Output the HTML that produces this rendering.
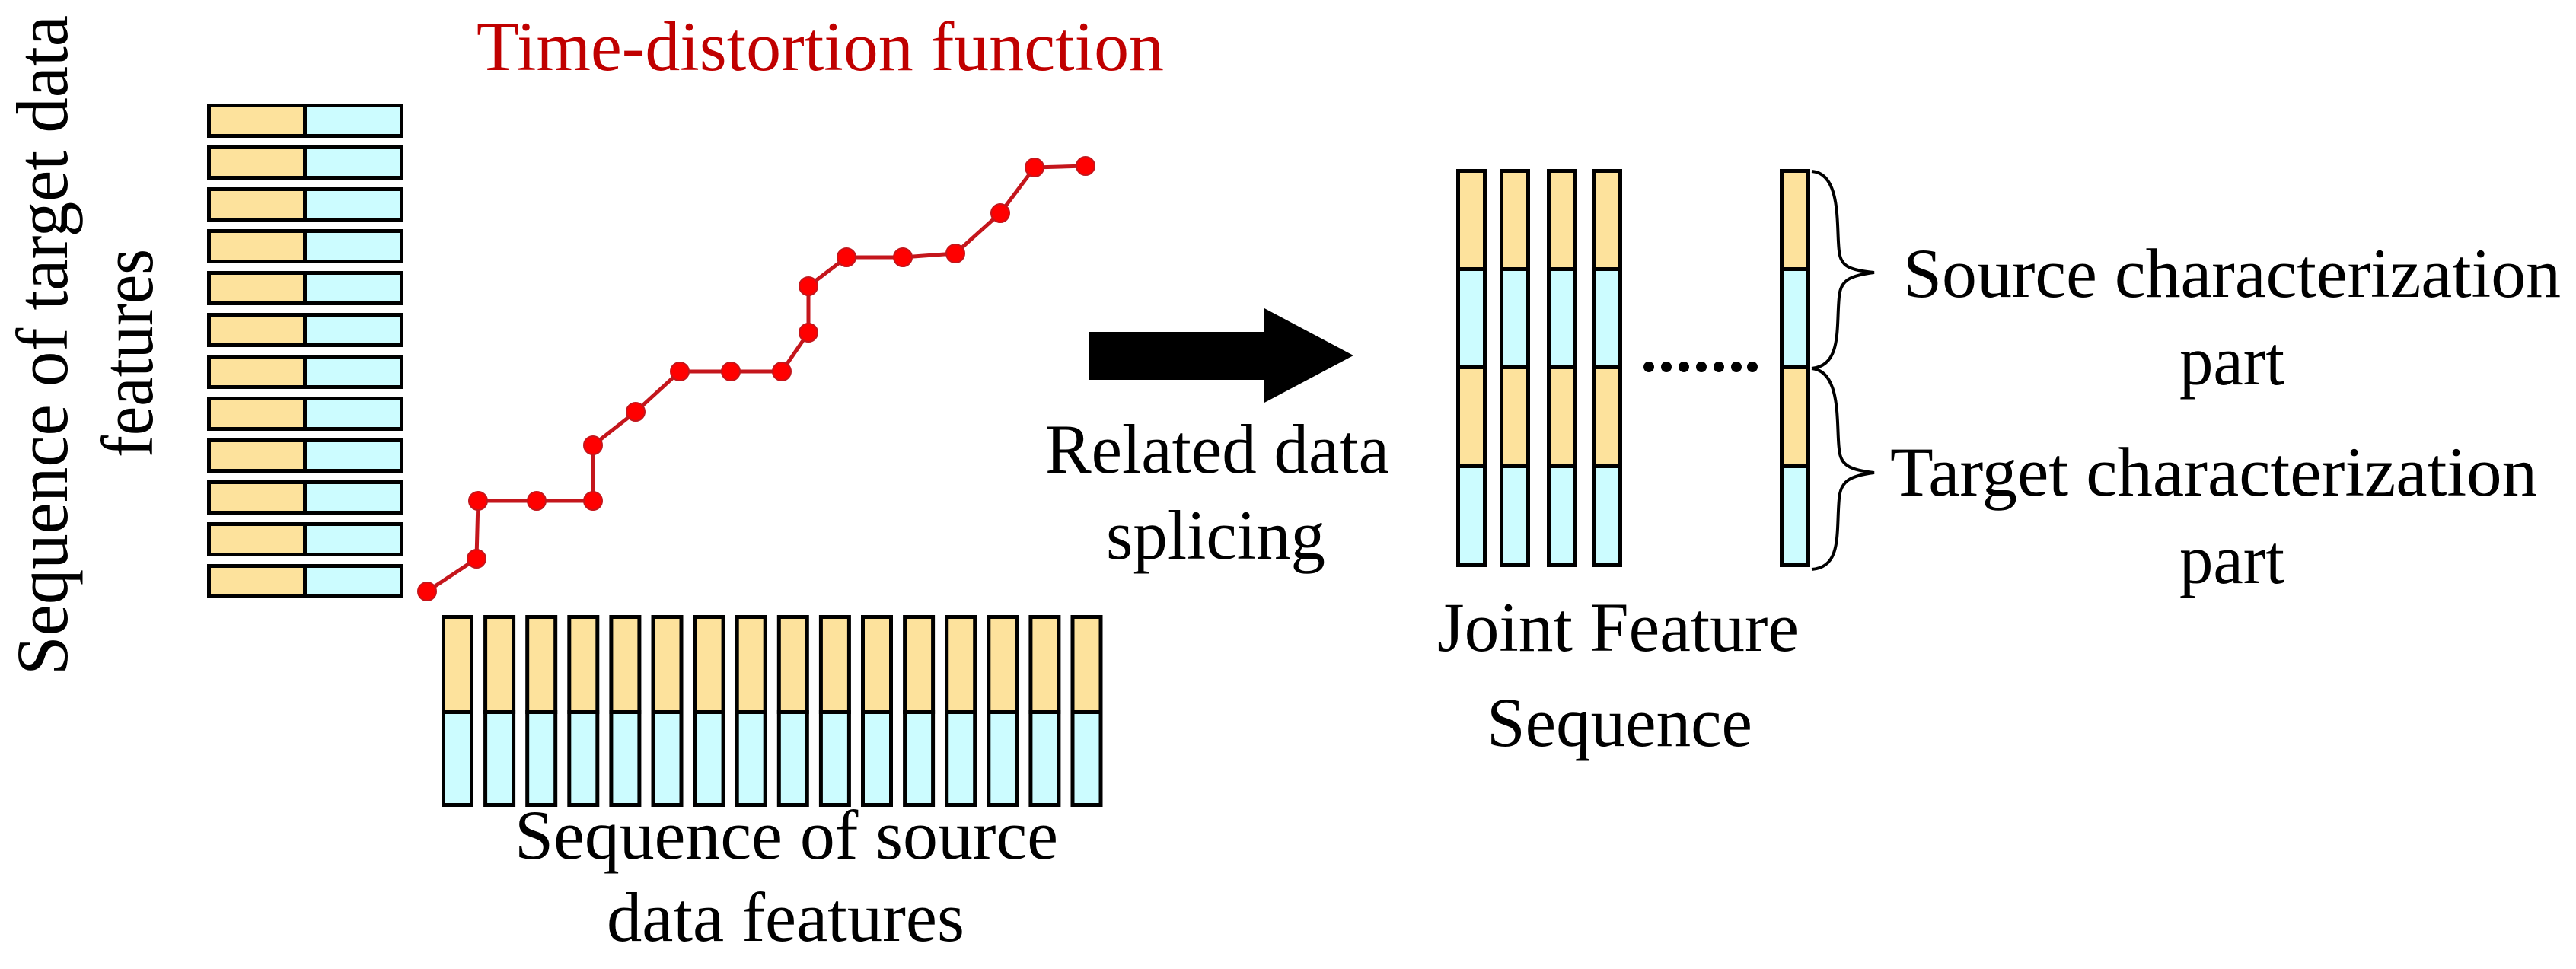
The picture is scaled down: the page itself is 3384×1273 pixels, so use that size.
<!DOCTYPE html>
<html><head><meta charset="utf-8"><style>html,body{margin:0;padding:0;background:#fff}svg{display:block}text{font-family:'Liberation Serif','DejaVu Serif',serif !important}</style></head>
<body>
<svg width="3384" height="1273" viewBox="0 0 3384 1273" xmlns="http://www.w3.org/2000/svg" style="font-family:'Liberation Serif','DejaVu Serif',serif">
<rect width="3384" height="1273" fill="#fff"/>
<g stroke="#000" stroke-width="5">
<g id="lb">
<rect x="274.5" y="138.5" width="126" height="40" fill="#fde29c"/>
<rect x="400.5" y="138.5" width="127" height="40" fill="#ccfcff"/>
</g>
<use href="#lb" y="55"/><use href="#lb" y="110"/><use href="#lb" y="165"/><use href="#lb" y="220"/><use href="#lb" y="275"/><use href="#lb" y="330"/><use href="#lb" y="385"/><use href="#lb" y="440"/><use href="#lb" y="495"/><use href="#lb" y="550"/><use href="#lb" y="605"/>
<g id="bc">
<rect x="582.5" y="810.5" width="37" height="125" fill="#fde29c"/>
<rect x="582.5" y="935.5" width="37" height="122" fill="#ccfcff"/>
</g>
<use href="#bc" x="55.1"/><use href="#bc" x="110.2"/><use href="#bc" x="165.3"/><use href="#bc" x="220.4"/><use href="#bc" x="275.5"/><use href="#bc" x="330.6"/><use href="#bc" x="385.7"/><use href="#bc" x="440.8"/><use href="#bc" x="495.9"/><use href="#bc" x="551"/><use href="#bc" x="606.1"/><use href="#bc" x="661.2"/><use href="#bc" x="716.3"/><use href="#bc" x="771.4"/><use href="#bc" x="826.5"/>
<g id="jc">
<rect x="1915.5" y="224.5" width="35" height="129" fill="#fde29c"/>
<rect x="1915.5" y="353.5" width="35" height="129" fill="#ccfcff"/>
<rect x="1915.5" y="482.5" width="35" height="130" fill="#fde29c"/>
<rect x="1915.5" y="612.5" width="35" height="130" fill="#ccfcff"/>
</g>
<use href="#jc" x="57"/><use href="#jc" x="119"/><use href="#jc" x="178"/><use href="#jc" x="425"/>
</g>
<g fill="#000">
<circle cx="2166" cy="482" r="7"/><circle cx="2189" cy="482" r="7"/><circle cx="2212" cy="482" r="7"/><circle cx="2235" cy="482" r="7"/><circle cx="2258" cy="482" r="7"/><circle cx="2281" cy="482" r="7"/><circle cx="2302" cy="482" r="7"/>
</g>
<polygon points="1431,436 1661,436 1661,405 1778,467 1661,529 1661,499 1431,499" fill="#000"/>
<path d="M2380,225 C2420,228 2412,300 2416,330 C2418,350 2430,355 2462,358 C2430,362 2418,368 2416,390 C2412,430 2420,480 2380,484" fill="none" stroke="#000" stroke-width="4"/>
<path d="M2380,484 C2420,488 2412,560 2416,590 C2418,612 2430,617 2462,621 C2430,625 2418,632 2416,655 C2412,700 2420,745 2380,748" fill="none" stroke="#000" stroke-width="4"/>
<polyline points="561,777 626,734 628,658 705,658 779,658 779,585 835,541 893,488 960,488 1027,488 1062,437 1062,376 1112,338 1186,338 1255,333 1314,280 1359,220 1426,218" fill="none" stroke="#c4161c" stroke-width="5"/>
<g fill="#f00" stroke="#c4161c" stroke-width="2">
<circle cx="561" cy="777" r="12"/><circle cx="626" cy="734" r="12"/><circle cx="628" cy="658" r="12"/><circle cx="705" cy="658" r="12"/><circle cx="779" cy="658" r="12"/><circle cx="779" cy="585" r="12"/><circle cx="835" cy="541" r="12"/><circle cx="893" cy="488" r="12"/><circle cx="960" cy="488" r="12"/><circle cx="1027" cy="488" r="12"/><circle cx="1062" cy="437" r="12"/><circle cx="1062" cy="376" r="12"/><circle cx="1112" cy="338" r="12"/><circle cx="1186" cy="338" r="12"/><circle cx="1255" cy="333" r="12"/><circle cx="1314" cy="280" r="12"/><circle cx="1359" cy="220" r="12"/><circle cx="1426" cy="218" r="12"/>
</g>
<g font-size="92" fill="#000" font-family="'Liberation Serif', 'DejaVu Serif', serif">
<text x="626" y="92" fill="#c00000" textLength="903" lengthAdjust="spacingAndGlyphs">Time-distortion function</text>
<text transform="translate(88,887) rotate(-90)" x="0" y="0" font-size="96" textLength="867" lengthAdjust="spacingAndGlyphs">Sequence of target data</text>
<text transform="translate(200,601) rotate(-90)" x="0" y="0" font-size="96" textLength="274" lengthAdjust="spacingAndGlyphs">features</text>
<text x="676" y="1128" textLength="714" lengthAdjust="spacingAndGlyphs">Sequence of source</text>
<text x="797" y="1236" textLength="470" lengthAdjust="spacingAndGlyphs">data features</text>
<text x="1373" y="621" textLength="452" lengthAdjust="spacingAndGlyphs">Related data</text>
<text x="1453" y="734" textLength="288" lengthAdjust="spacingAndGlyphs">splicing</text>
<text x="1888" y="855" textLength="475" lengthAdjust="spacingAndGlyphs">Joint Feature</text>
<text x="1953" y="980" textLength="349" lengthAdjust="spacingAndGlyphs">Sequence</text>
<text x="2500" y="390" textLength="864" lengthAdjust="spacingAndGlyphs">Source characterization</text>
<text x="2863" y="505" textLength="138" lengthAdjust="spacingAndGlyphs">part</text>
<text x="2483" y="651" textLength="850" lengthAdjust="spacingAndGlyphs">Target characterization</text>
<text x="2863" y="766" textLength="138" lengthAdjust="spacingAndGlyphs">part</text>
</g>
</svg>
</body></html>
